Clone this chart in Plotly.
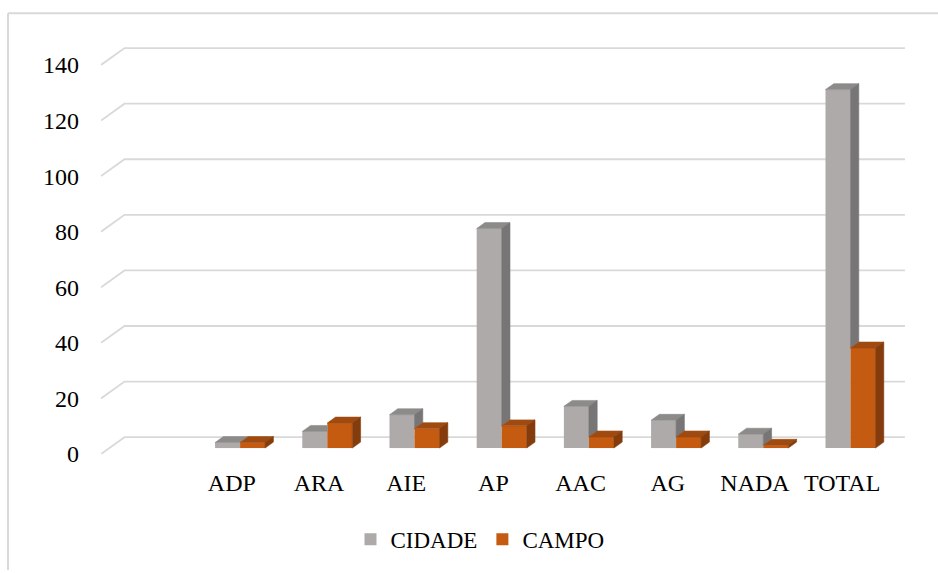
import plotly.graph_objects as go

# ---- data ----
categories = ["ADP", "ARA", "AIE", "AP", "AAC", "AG", "NADA", "TOTAL"]
cidade = [2, 6, 12, 79, 15, 10, 5, 129]
campo = [2, 9, 7, 8, 4, 4, 1, 36]
y_ticks = [0, 20, 40, 60, 80, 100, 120, 140]
series_names = ["CIDADE", "CAMPO"]

# ---- geometry / style (pixel-based oblique 3D look) ----
W_PX, H_PX = 938, 573
ML, MR, MT, MB = 101, 28, 28, 115
PXC = 87.2          # px per category
PXU = 2.805         # px per unit
XMIN = -0.5
XMAX = XMIN + (W_PX - ML - MR) / PXC
YMAX = (H_PX - MT - MB) / PXU

DEPTH_X = 23.5 / PXC
DEPTH_Y = 17.0 / PXU
FRONT_FRAC = 6.0 / 17.0
BAR_FRAC = 6.0 / 17.0
FX, FY = FRONT_FRAC * DEPTH_X, FRONT_FRAC * DEPTH_Y
BX, BY = BAR_FRAC * DEPTH_X, BAR_FRAC * DEPTH_Y
BW = 25.0 / PXC

GRAY_FRONT, GRAY_TOP, GRAY_SIDE = "#ADAAA9", "#8D8B8A", "#777575"
ORNG_FRONT, ORNG_TOP, ORNG_SIDE = "#C55A11", "#9E4A10", "#843C0C"
GRID = "#D9D9D9"
FONT = "Liberation Serif, Times New Roman, serif"

xpos = [i + 1 for i in range(len(categories))]   # slot 0 left blank
xc = [x + FX for x in xpos]

fig = go.Figure()

# front faces as bars
fig.add_trace(go.Bar(x=xc, y=cidade, base=FY, width=BW, offset=-BW,
                     name=series_names[0], marker=dict(color=GRAY_FRONT, line=dict(width=0)),
                     hoverinfo="skip"))
fig.add_trace(go.Bar(x=xc, y=campo, base=FY, width=BW, offset=0,
                     name=series_names[1], marker=dict(color=ORNG_FRONT, line=dict(width=0)),
                     hoverinfo="skip"))


def poly(xs, ys, color):
    fig.add_trace(go.Scatter(x=xs + [xs[0]], y=ys + [ys[0]], mode="lines", fill="toself",
                             fillcolor=color, line=dict(width=0.6, color=color),
                             showlegend=False, hoverinfo="skip"))


for k in range(len(categories)):
    x1 = xc[k]
    x0 = x1 - BW
    x2 = x1 + BW
    g = FY + cidade[k]
    o = FY + campo[k]
    # gray top (clipped by taller orange neighbour)
    op = min(max(o, g), g + BY)
    tx = x1 + (g + BY - op) * BX / BY
    poly([x0, x1, x1, tx, x0 + BX], [g, g, op, g + BY, g + BY], GRAY_TOP)
    # gray side above orange
    if g > o:
        poly([x1, x1, x1 + BX, x1 + BX], [o, g, g + BY, o + BY], GRAY_SIDE)
    # orange top and side
    poly([x1, x2, x2 + BX, x1 + BX], [o, o, o + BY, o + BY], ORNG_TOP)
    poly([x2, x2, x2 + BX, x2 + BX], [FY, o, o + BY, FY + BY], ORNG_SIDE)

# gridlines on the back wall with the left-wall diagonal
shapes = []
for v in y_ticks:
    shapes.append(dict(type="path", xref="x", yref="y", layer="below",
                       path=f"M {XMIN},{v} L {XMIN + DEPTH_X},{v + DEPTH_Y} L {8.45 + DEPTH_X},{v + DEPTH_Y}",
                       line=dict(color=GRID, width=1.8)))
# outer frame (left + top visible)
pw = (W_PX - ML - MR)
ph = (H_PX - MT - MB)
fx0 = (8 - ML) / pw
fy0 = (H_PX - MB - 13) / ph
shapes.append(dict(type="line", xref="paper", yref="paper", x0=fx0, x1=fx0,
                   y0=fy0, y1=-(MB + 2) / ph, line=dict(color=GRID, width=2)))
shapes.append(dict(type="line", xref="paper", yref="paper", x0=fx0, x1=(W_PX - ML + 2) / pw,
                   y0=fy0, y1=fy0, line=dict(color=GRID, width=2)))

fig.update_layout(
    width=W_PX, height=H_PX,
    margin=dict(l=ML, r=MR, t=MT, b=MB),
    paper_bgcolor="white", plot_bgcolor="white",
    barmode="overlay",
    shapes=shapes,
    font=dict(family=FONT, color="#000000", size=24),
    xaxis=dict(range=[XMIN, XMAX], tickvals=xpos, ticktext=categories,
               showgrid=False, zeroline=False, showline=False, ticks="",
               ticklabelstandoff=12, tickfont=dict(size=24, family=FONT)),
    yaxis=dict(range=[0, YMAX], tickvals=y_ticks, showgrid=False, zeroline=False,
               showline=False, ticks="", ticklabelstandoff=21,
               tickfont=dict(size=24, family=FONT)),
    legend=dict(orientation="h", x=(480 - ML) / pw, xanchor="center",
                y=-(544 - (H_PX - MB)) / ph, yanchor="middle",
                font=dict(size=23, family=FONT, color="#000000"), traceorder="normal",
                itemwidth=30),
    showlegend=True,
)

fig.write_html("out.html")
